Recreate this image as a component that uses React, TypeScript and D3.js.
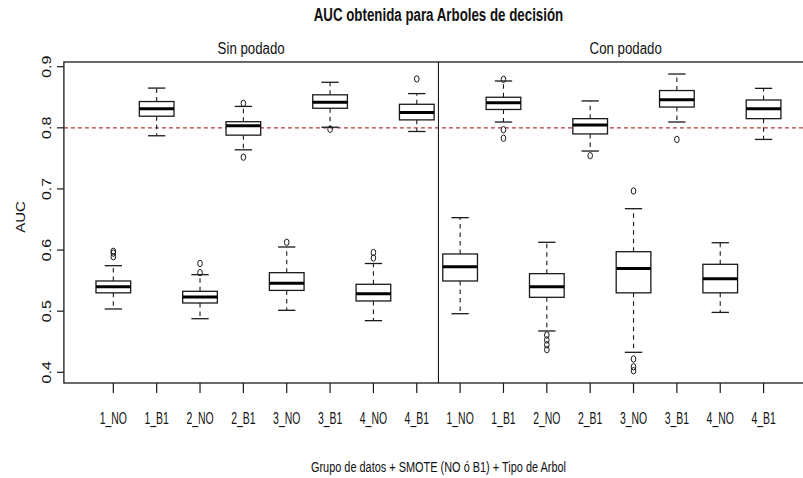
import React from "react";
import * as d3 from "d3";

// ---- data ----
const groupLabels = ["1_NO", "1_B1", "2_NO", "2_B1", "3_NO", "3_B1", "4_NO", "4_B1",
  "1_NO", "1_B1", "2_NO", "2_B1", "3_NO", "3_B1", "4_NO", "4_B1"];
const panelLabels = ["Sin podado", "Con podado"];
const yTicks = [0.4, 0.5, 0.6, 0.7, 0.8, 0.9];
const refLine = 0.8;

const whiskerLow = [0.5036, 0.787, 0.4877, 0.764, 0.5014, 0.801, 0.4845, 0.794,
  0.4959, 0.8095, 0.4676, 0.762, 0.4327, 0.8095, 0.498, 0.781];
const hingeLow = [0.530, 0.819, 0.5134, 0.788, 0.534, 0.832, 0.5167, 0.813,
  0.5494, 0.830, 0.5227, 0.790, 0.530, 0.834, 0.530, 0.815];
const medians = [0.540, 0.831, 0.523, 0.8035, 0.5456, 0.842, 0.5286, 0.825,
  0.5728, 0.841, 0.540, 0.8046, 0.570, 0.846, 0.5532, 0.831];
const hingeHigh = [0.5494, 0.843, 0.5325, 0.810, 0.563, 0.854, 0.544, 0.8385,
  0.5936, 0.850, 0.5614, 0.815, 0.5973, 0.861, 0.5767, 0.8455];
const whiskerHigh = [0.5744, 0.865, 0.5597, 0.835, 0.605, 0.8745, 0.578, 0.856,
  0.653, 0.8766, 0.6127, 0.844, 0.6677, 0.888, 0.612, 0.8646];
const outliers = [
  [0.598, 0.595, 0.589], [], [0.563, 0.578], [0.840, 0.752],
  [0.6127], [0.7976], [0.596, 0.587], [0.880],
  [], [0.8794, 0.797, 0.783], [0.461, 0.453, 0.445, 0.437], [0.7544],
  [0.6966, 0.4218, 0.409, 0.4026], [0.781], [], [],
];

const W = 803;
const H = 478;
const FONT = "'Liberation Sans', Arial, sans-serif";

function Narrow({ x, y, sx, size, bold, anchor = "middle", rotate = 0, children }: any) {
  return (
    <text
      transform={`translate(${x},${y}) scale(${sx},1) rotate(${rotate})`}
      fontFamily={FONT}
      fontSize={size}
      fontWeight={bold ? "bold" : "normal"}
      textAnchor={anchor}
      fill="#111"
    >
      {children}
    </text>
  );
}

export default function App() {
  const n = groupLabels.length;
  // R-style extended range around positions 1..16
  const x = d3.scaleLinear().domain([-0.14, n + 1.14]).range([63.9, 813]);
  const y = d3.scaleLinear().domain([0.4, 0.9]).range([372.3, 66.7]);
  const yTop = y(0.9077);
  const yBot = y(0.3825);
  const boxHalf = (x(1.4) - x(1));
  const capHalf = boxHalf / 2;
  const idx = d3.range(n);
  const divider = x(n / 2 + 0.5);
  const panelCenters = [(x.range()[0] + divider) / 2, (divider + x.range()[1]) / 2];
  const mid = (x.range()[0] + x.range()[1]) / 2;
  const stroke = "#1a1a1a";

  return (
    <svg width={W} height={H} style={{ position: "absolute", left: 0, top: 0, background: "#fff" }}>
      <rect x={0} y={0} width={W} height={H} fill="#fff" />

      {/* title and panel labels */}
      <Narrow x={mid} y={21} sx={0.72} size={18.5} bold>AUC obtenida para Arboles de decisión</Narrow>
      {panelLabels.map((p, i) => (
        <Narrow key={p} x={panelCenters[i]} y={53.5} sx={0.84} size={15.8}>{p}</Narrow>
      ))}

      {/* reference line */}
      <line x1={x.range()[0]} x2={W} y1={y(refLine)} y2={y(refLine)}
        stroke="#b03a3a" strokeWidth={1.2} strokeDasharray="4,3" />

      {/* boxes */}
      {idx.map((i) => {
        const cx = x(i + 1);
        return (
          <g key={i}>
            <line x1={cx} x2={cx} y1={y(hingeHigh[i])} y2={y(whiskerHigh[i])}
              stroke={stroke} strokeWidth={1.1} strokeDasharray="4.5,4" />
            <line x1={cx} x2={cx} y1={y(hingeLow[i])} y2={y(whiskerLow[i])}
              stroke={stroke} strokeWidth={1.1} strokeDasharray="4.5,4" />
            <line x1={cx - capHalf} x2={cx + capHalf} y1={y(whiskerHigh[i])} y2={y(whiskerHigh[i])}
              stroke={stroke} strokeWidth={1.3} />
            <line x1={cx - capHalf} x2={cx + capHalf} y1={y(whiskerLow[i])} y2={y(whiskerLow[i])}
              stroke={stroke} strokeWidth={1.3} />
            <rect x={cx - boxHalf} y={y(hingeHigh[i])} width={boxHalf * 2}
              height={y(hingeLow[i]) - y(hingeHigh[i])} fill="#fff" stroke={stroke} strokeWidth={1.3} />
            <line x1={cx - boxHalf} x2={cx + boxHalf} y1={y(medians[i])} y2={y(medians[i])}
              stroke="#000" strokeWidth={3} />
            {outliers[i].map((o, k) => (
              <ellipse key={k} cx={cx} cy={y(o)} rx={2.3} ry={3.2}
                fill="none" stroke={stroke} strokeWidth={1} />
            ))}
          </g>
        );
      })}

      {/* plot frame and divider */}
      <rect x={x.range()[0]} y={yTop} width={x.range()[1] - x.range()[0]} height={yBot - yTop}
        fill="none" stroke={stroke} strokeWidth={1.3} />
      <line x1={divider} x2={divider} y1={yTop} y2={yBot} stroke={stroke} strokeWidth={1.1} />

      {/* y axis */}
      {yTicks.map((t) => (
        <g key={t}>
          <line x1={57} x2={x.range()[0]} y1={y(t)} y2={y(t)} stroke={stroke} strokeWidth={1.2} />
          <Narrow x={50.5} y={y(t)} sx={0.8} size={16} rotate={-90}>{d3.format(".1f")(t)}</Narrow>
        </g>
      ))}
      <Narrow x={25} y={217} sx={0.85} size={15} rotate={-90}>AUC</Narrow>

      {/* x axis */}
      {idx.map((i) => (
        <g key={i}>
          <line x1={x(i + 1)} x2={x(i + 1)} y1={yBot} y2={yBot + 10} stroke={stroke} strokeWidth={1.2} />
          <Narrow x={x(i + 1)} y={423.5} sx={0.64} size={16.3}>{groupLabels[i]}</Narrow>
        </g>
      ))}
      <Narrow x={mid} y={471.5} sx={0.71} size={15.4}>Grupo de datos + SMOTE (NO ó B1) + Tipo de Arbol</Narrow>
    </svg>
  );
}
